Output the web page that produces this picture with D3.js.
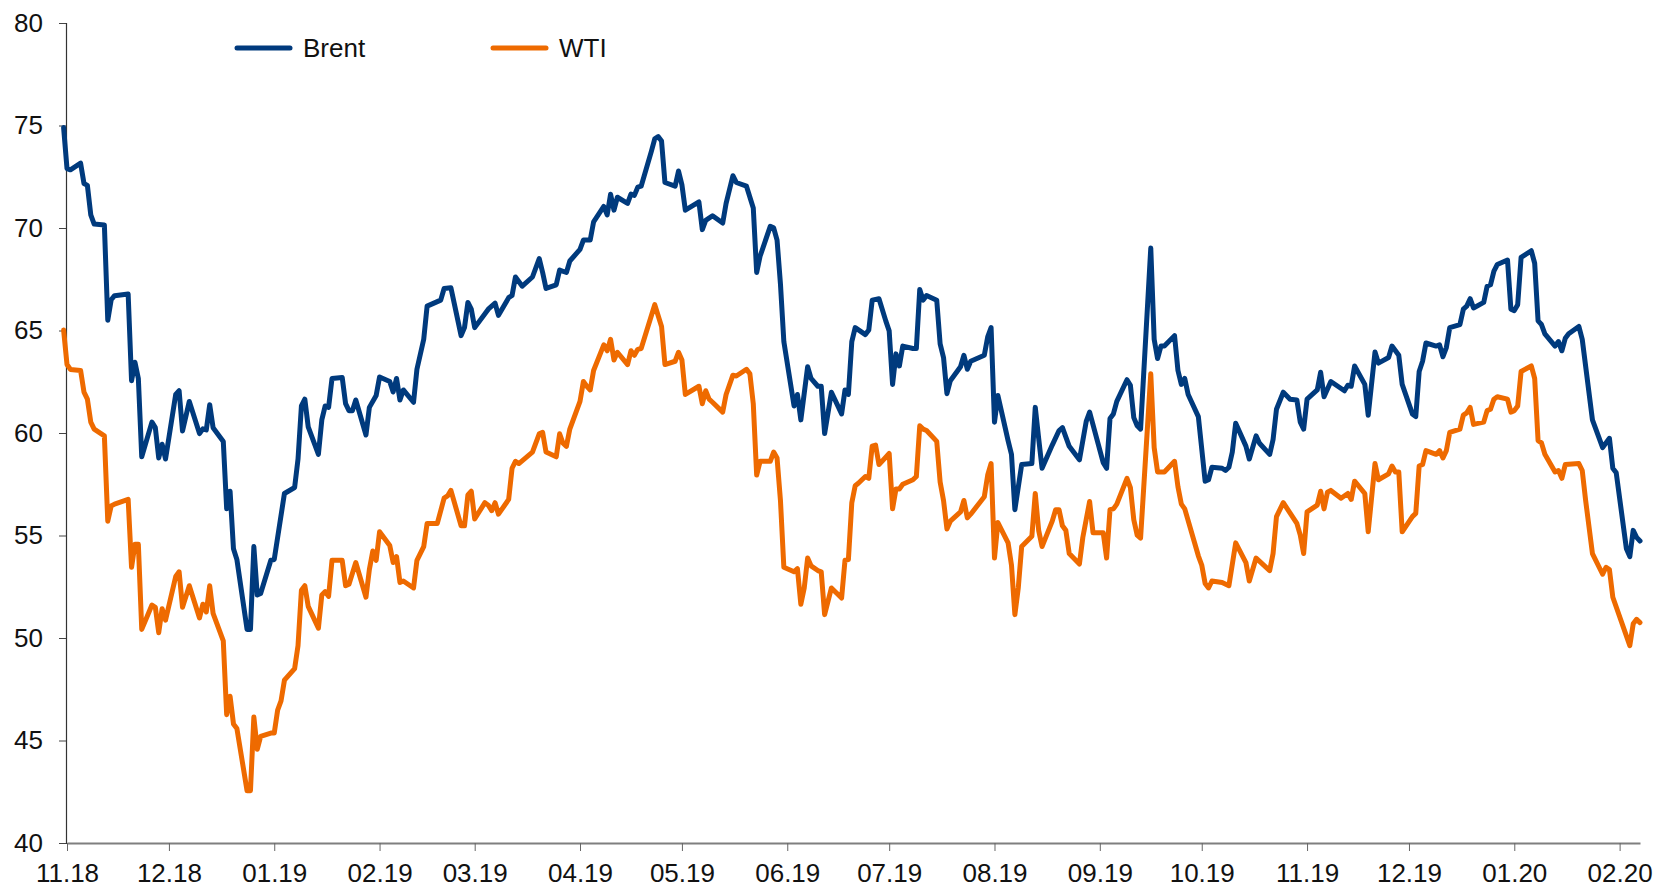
<!DOCTYPE html>
<html>
<head>
<meta charset="utf-8">
<script src="https://cdn.jsdelivr.net/npm/d3@7"></script>
<style>
  body { margin: 0; background: #fff; }
  svg { display: block; font-family: "Liberation Sans", Arial, sans-serif; }
</style>
</head>
<body>
<div id="chart"></div>
<script>
// Daily closes (USD per barrel)
const brent = [
  ["2018-10-31", 74.9], ["2018-11-01", 72.9], ["2018-11-02", 72.84], ["2018-11-05", 73.16], ["2018-11-06", 72.17],
  ["2018-11-07", 72.08], ["2018-11-08", 70.64], ["2018-11-09", 70.19], ["2018-11-12", 70.15], ["2018-11-13", 65.5],
  ["2018-11-14", 66.5], ["2018-11-15", 66.7], ["2018-11-19", 66.78], ["2018-11-20", 62.55], ["2018-11-21", 63.45],
  ["2018-11-22", 62.66], ["2018-11-23", 58.84], ["2018-11-26", 60.53], ["2018-11-27", 60.26], ["2018-11-28", 58.78],
  ["2018-11-29", 59.45], ["2018-11-30", 58.73], ["2018-12-03", 61.88], ["2018-12-04", 62.06], ["2018-12-05", 60.1],
  ["2018-12-07", 61.54], ["2018-12-10", 59.97], ["2018-12-11", 60.2], ["2018-12-12", 60.15], ["2018-12-13", 61.38],
  ["2018-12-14", 60.26], ["2018-12-17", 59.59], ["2018-12-18", 56.3], ["2018-12-19", 57.16], ["2018-12-20", 54.35],
  ["2018-12-21", 53.83], ["2018-12-24", 50.42], ["2018-12-25", 50.42], ["2018-12-26", 54.46], ["2018-12-27", 52.1],
  ["2018-12-28", 52.17], ["2018-12-31", 53.79], ["2019-01-01", 53.83], ["2019-01-04", 57.05], ["2019-01-07", 57.34],
  ["2019-01-08", 58.73], ["2019-01-09", 61.32], ["2019-01-10", 61.65], ["2019-01-11", 60.3], ["2019-01-14", 58.96],
  ["2019-01-15", 60.64], ["2019-01-16", 61.32], ["2019-01-17", 61.25], ["2019-01-18", 62.66], ["2019-01-21", 62.71],
  ["2019-01-22", 61.43], ["2019-01-23", 61.09], ["2019-01-24", 61.09], ["2019-01-25", 61.61], ["2019-01-28", 59.9],
  ["2019-01-29", 61.25], ["2019-01-31", 61.83], ["2019-02-01", 62.73], ["2019-02-04", 62.51], ["2019-02-05", 62.0],
  ["2019-02-06", 62.66], ["2019-02-07", 61.61], ["2019-02-08", 62.1], ["2019-02-11", 61.5], ["2019-02-12", 63.11],
  ["2019-02-14", 64.57], ["2019-02-15", 66.19], ["2019-02-19", 66.48], ["2019-02-20", 67.05], ["2019-02-22", 67.09],
  ["2019-02-25", 64.75], ["2019-02-26", 65.14], ["2019-02-27", 66.37], ["2019-02-28", 66.04], ["2019-03-01", 65.14],
  ["2019-03-05", 66.04], ["2019-03-07", 66.33], ["2019-03-08", 65.74], ["2019-03-11", 66.6], ["2019-03-12", 66.71],
  ["2019-03-13", 67.61], ["2019-03-15", 67.16], ["2019-03-18", 67.61], ["2019-03-20", 68.51], ["2019-03-21", 67.83],
  ["2019-03-22", 67.05], ["2019-03-25", 67.23], ["2019-03-26", 67.95], ["2019-03-28", 67.83], ["2019-03-29", 68.39],
  ["2019-04-01", 68.96], ["2019-04-02", 69.41], ["2019-04-04", 69.41], ["2019-04-05", 70.3], ["2019-04-08", 71.05],
  ["2019-04-09", 70.64], ["2019-04-10", 71.65], ["2019-04-11", 70.87], ["2019-04-12", 71.5], ["2019-04-15", 71.2],
  ["2019-04-16", 71.65], ["2019-04-17", 71.59], ["2019-04-18", 71.99], ["2019-04-19", 72.04], ["2019-04-22", 73.74],
  ["2019-04-23", 74.35], ["2019-04-24", 74.46], ["2019-04-25", 74.24], ["2019-04-26", 72.22], ["2019-04-29", 72.04],
  ["2019-04-30", 72.78], ["2019-05-01", 72.1], ["2019-05-02", 70.87], ["2019-05-06", 71.27], ["2019-05-07", 69.92],
  ["2019-05-08", 70.37], ["2019-05-10", 70.6], ["2019-05-13", 70.24], ["2019-05-14", 71.2], ["2019-05-16", 72.55],
  ["2019-05-17", 72.22], ["2019-05-20", 72.04], ["2019-05-22", 70.98], ["2019-05-23", 67.83], ["2019-05-24", 68.62],
  ["2019-05-27", 70.08], ["2019-05-28", 70.01], ["2019-05-29", 69.41], ["2019-05-30", 67.27], ["2019-05-31", 64.46],
  ["2019-06-03", 61.32], ["2019-06-04", 61.88], ["2019-06-05", 60.64], ["2019-06-07", 63.23], ["2019-06-08", 62.66],
  ["2019-06-10", 62.28], ["2019-06-11", 62.28], ["2019-06-12", 59.97], ["2019-06-14", 61.99], ["2019-06-17", 60.93],
  ["2019-06-18", 62.1], ["2019-06-19", 61.88], ["2019-06-20", 64.46], ["2019-06-21", 65.14], ["2019-06-24", 64.8],
  ["2019-06-25", 65.02], ["2019-06-26", 66.48], ["2019-06-28", 66.55], ["2019-06-30", 65.47], ["2019-07-01", 64.98],
  ["2019-07-02", 62.37], ["2019-07-03", 63.86], ["2019-07-04", 63.27], ["2019-07-05", 64.24], ["2019-07-08", 64.12],
  ["2019-07-09", 64.12], ["2019-07-10", 67.0], ["2019-07-11", 66.48], ["2019-07-12", 66.71], ["2019-07-15", 66.48],
  ["2019-07-16", 64.35], ["2019-07-17", 63.68], ["2019-07-18", 61.92], ["2019-07-19", 62.55], ["2019-07-22", 63.23],
  ["2019-07-23", 63.79], ["2019-07-24", 63.11], ["2019-07-25", 63.5], ["2019-07-29", 63.79], ["2019-07-30", 64.69],
  ["2019-07-31", 65.14], ["2019-08-01", 60.53], ["2019-08-02", 61.83], ["2019-08-05", 59.63], ["2019-08-06", 58.96],
  ["2019-08-07", 56.26], ["2019-08-09", 58.46], ["2019-08-12", 58.51], ["2019-08-13", 61.25], ["2019-08-14", 59.74],
  ["2019-08-15", 58.28], ["2019-08-18", 59.41], ["2019-08-20", 60.12], ["2019-08-21", 60.26], ["2019-08-23", 59.35],
  ["2019-08-26", 58.69], ["2019-08-28", 60.57], ["2019-08-29", 61.02], ["2019-09-02", 58.55], ["2019-09-03", 58.28],
  ["2019-09-04", 60.71], ["2019-09-05", 60.93], ["2019-09-06", 61.54], ["2019-09-09", 62.6], ["2019-09-10", 62.33],
  ["2019-09-11", 60.75], ["2019-09-12", 60.35], ["2019-09-13", 60.19], ["2019-09-16", 69.02], ["2019-09-17", 64.57],
  ["2019-09-18", 63.63], ["2019-09-19", 64.24], ["2019-09-20", 64.24], ["2019-09-23", 64.75], ["2019-09-24", 63.05],
  ["2019-09-25", 62.37], ["2019-09-26", 62.66], ["2019-09-27", 61.88], ["2019-09-30", 60.8], ["2019-10-02", 57.65],
  ["2019-10-03", 57.72], ["2019-10-04", 58.33], ["2019-10-07", 58.28], ["2019-10-08", 58.17], ["2019-10-09", 58.33],
  ["2019-10-10", 59.07], ["2019-10-11", 60.48], ["2019-10-14", 59.36], ["2019-10-15", 58.73], ["2019-10-17", 59.86],
  ["2019-10-18", 59.5], ["2019-10-21", 58.96], ["2019-10-22", 59.68], ["2019-10-23", 61.16], ["2019-10-25", 61.99],
  ["2019-10-27", 61.65], ["2019-10-29", 61.61], ["2019-10-30", 60.53], ["2019-10-31", 60.19], ["2019-11-01", 61.65],
  ["2019-11-04", 62.1], ["2019-11-05", 62.96], ["2019-11-06", 61.77], ["2019-11-08", 62.51], ["2019-11-12", 62.06],
  ["2019-11-13", 62.33], ["2019-11-14", 62.28], ["2019-11-15", 63.27], ["2019-11-18", 62.37], ["2019-11-19", 60.87],
  ["2019-11-21", 63.95], ["2019-11-22", 63.41], ["2019-11-25", 63.68], ["2019-11-26", 64.24], ["2019-11-28", 63.79],
  ["2019-11-29", 62.37], ["2019-12-02", 60.93], ["2019-12-03", 60.8], ["2019-12-04", 63.0], ["2019-12-05", 63.5],
  ["2019-12-06", 64.39], ["2019-12-09", 64.24], ["2019-12-10", 64.3], ["2019-12-11", 63.72], ["2019-12-12", 64.17],
  ["2019-12-13", 65.14], ["2019-12-16", 65.29], ["2019-12-17", 66.04], ["2019-12-18", 66.19], ["2019-12-19", 66.55],
  ["2019-12-20", 66.1], ["2019-12-23", 66.37], ["2019-12-24", 67.16], ["2019-12-25", 67.23], ["2019-12-26", 67.9],
  ["2019-12-27", 68.22], ["2019-12-30", 68.44], ["2019-12-31", 66.04], ["2020-01-01", 65.97], ["2020-01-02", 66.26],
  ["2020-01-03", 68.57], ["2020-01-06", 68.89], ["2020-01-07", 68.28], ["2020-01-08", 65.47], ["2020-01-09", 65.29],
  ["2020-01-10", 64.84], ["2020-01-13", 64.24], ["2020-01-14", 64.46], ["2020-01-15", 64.01], ["2020-01-16", 64.62],
  ["2020-01-17", 64.84], ["2020-01-20", 65.2], ["2020-01-21", 64.57], ["2020-01-24", 60.64], ["2020-01-27", 59.29],
  ["2020-01-29", 59.74], ["2020-01-30", 58.28], ["2020-01-31", 58.06], ["2020-02-03", 54.35], ["2020-02-04", 53.97],
  ["2020-02-05", 55.25], ["2020-02-06", 54.91], ["2020-02-07", 54.73]
];

const wti = [
  ["2018-10-31", 65.02], ["2018-11-01", 63.34], ["2018-11-02", 63.1], ["2018-11-05", 63.05], ["2018-11-06", 61.99],
  ["2018-11-07", 61.65], ["2018-11-08", 60.53], ["2018-11-09", 60.19], ["2018-11-12", 59.86], ["2018-11-13", 55.7],
  ["2018-11-14", 56.44], ["2018-11-15", 56.53], ["2018-11-19", 56.76], ["2018-11-20", 53.45], ["2018-11-21", 54.57],
  ["2018-11-22", 54.57], ["2018-11-23", 50.42], ["2018-11-26", 51.61], ["2018-11-27", 51.5], ["2018-11-28", 50.26],
  ["2018-11-29", 51.43], ["2018-11-30", 50.87], ["2018-12-03", 53.0], ["2018-12-04", 53.23], ["2018-12-05", 51.5],
  ["2018-12-07", 52.55], ["2018-12-10", 50.98], ["2018-12-11", 51.65], ["2018-12-12", 51.27], ["2018-12-13", 52.55],
  ["2018-12-14", 51.2], ["2018-12-17", 49.86], ["2018-12-18", 46.26], ["2018-12-19", 47.16], ["2018-12-20", 45.81],
  ["2018-12-21", 45.59], ["2018-12-24", 42.55], ["2018-12-25", 42.55], ["2018-12-26", 46.15], ["2018-12-27", 44.57],
  ["2018-12-28", 45.2], ["2018-12-31", 45.36], ["2019-01-01", 45.36], ["2019-01-02", 46.48], ["2019-01-03", 46.93],
  ["2019-01-04", 47.94], ["2019-01-07", 48.51], ["2019-01-08", 49.63], ["2019-01-09", 52.33], ["2019-01-10", 52.55],
  ["2019-01-11", 51.54], ["2019-01-14", 50.48], ["2019-01-15", 52.1], ["2019-01-16", 52.26], ["2019-01-17", 52.03],
  ["2019-01-18", 53.79], ["2019-01-21", 53.79], ["2019-01-22", 52.55], ["2019-01-23", 52.62], ["2019-01-25", 53.68],
  ["2019-01-28", 51.99], ["2019-01-29", 53.34], ["2019-01-30", 54.24], ["2019-01-31", 53.79], ["2019-02-01", 55.18],
  ["2019-02-04", 54.51], ["2019-02-05", 53.68], ["2019-02-06", 53.97], ["2019-02-07", 52.71], ["2019-02-08", 52.78],
  ["2019-02-11", 52.44], ["2019-02-12", 53.79], ["2019-02-14", 54.46], ["2019-02-15", 55.59], ["2019-02-18", 55.59],
  ["2019-02-20", 56.82], ["2019-02-21", 56.93], ["2019-02-22", 57.2], ["2019-02-25", 55.47], ["2019-02-26", 55.47],
  ["2019-02-27", 56.98], ["2019-02-28", 57.16], ["2019-03-01", 55.81], ["2019-03-04", 56.6], ["2019-03-05", 56.48],
  ["2019-03-06", 56.21], ["2019-03-07", 56.6], ["2019-03-08", 56.04], ["2019-03-11", 56.76], ["2019-03-12", 58.28],
  ["2019-03-13", 58.62], ["2019-03-14", 58.51], ["2019-03-18", 59.07], ["2019-03-20", 59.96], ["2019-03-21", 60.03],
  ["2019-03-22", 59.07], ["2019-03-25", 58.84], ["2019-03-26", 59.96], ["2019-03-27", 59.5], ["2019-03-28", 59.35],
  ["2019-03-29", 60.19], ["2019-04-01", 61.54], ["2019-04-02", 62.51], ["2019-04-03", 62.28], ["2019-04-04", 62.1],
  ["2019-04-05", 63.05], ["2019-04-08", 64.3], ["2019-04-09", 64.01], ["2019-04-10", 64.57], ["2019-04-11", 63.56],
  ["2019-04-12", 63.94], ["2019-04-15", 63.34], ["2019-04-16", 64.01], ["2019-04-17", 63.79], ["2019-04-18", 64.08],
  ["2019-04-19", 64.12], ["2019-04-23", 66.26], ["2019-04-25", 65.2], ["2019-04-26", 63.34], ["2019-04-29", 63.5],
  ["2019-04-30", 63.94], ["2019-05-01", 63.56], ["2019-05-02", 61.88], ["2019-05-06", 62.28], ["2019-05-07", 61.43],
  ["2019-05-08", 62.06], ["2019-05-09", 61.65], ["2019-05-10", 61.5], ["2019-05-13", 61.02], ["2019-05-14", 61.88],
  ["2019-05-16", 62.82], ["2019-05-17", 62.78], ["2019-05-20", 63.11], ["2019-05-21", 62.89], ["2019-05-22", 61.43],
  ["2019-05-23", 57.95], ["2019-05-24", 58.62], ["2019-05-27", 58.62], ["2019-05-28", 59.07], ["2019-05-29", 58.78],
  ["2019-05-30", 56.71], ["2019-05-31", 53.45], ["2019-06-03", 53.23], ["2019-06-04", 53.38], ["2019-06-05", 51.65],
  ["2019-06-06", 52.44], ["2019-06-07", 53.9], ["2019-06-08", 53.52], ["2019-06-10", 53.29], ["2019-06-11", 53.23],
  ["2019-06-12", 51.14], ["2019-06-14", 52.44], ["2019-06-17", 51.95], ["2019-06-18", 53.79], ["2019-06-19", 53.83],
  ["2019-06-20", 56.6], ["2019-06-21", 57.43], ["2019-06-22", 57.56], ["2019-06-24", 57.88], ["2019-06-25", 57.79],
  ["2019-06-26", 59.36], ["2019-06-27", 59.41], ["2019-06-28", 58.46], ["2019-07-01", 59.0], ["2019-07-02", 56.3],
  ["2019-07-03", 57.27], ["2019-07-04", 57.27], ["2019-07-05", 57.5], ["2019-07-08", 57.72], ["2019-07-09", 57.88],
  ["2019-07-10", 60.35], ["2019-07-11", 60.19], ["2019-07-12", 60.12], ["2019-07-15", 59.59], ["2019-07-16", 57.61],
  ["2019-07-17", 56.71], ["2019-07-18", 55.32], ["2019-07-19", 55.7], ["2019-07-22", 56.15], ["2019-07-23", 56.71],
  ["2019-07-24", 55.86], ["2019-07-25", 56.04], ["2019-07-29", 56.89], ["2019-07-30", 57.95], ["2019-07-31", 58.51],
  ["2019-08-01", 53.9], ["2019-08-02", 55.63], ["2019-08-05", 54.64], ["2019-08-06", 53.56], ["2019-08-07", 51.14],
  ["2019-08-08", 52.44], ["2019-08-09", 54.46], ["2019-08-12", 54.96], ["2019-08-13", 57.05], ["2019-08-14", 55.25],
  ["2019-08-15", 54.46], ["2019-08-18", 55.7], ["2019-08-19", 56.26], ["2019-08-20", 56.26], ["2019-08-21", 55.47],
  ["2019-08-22", 55.25], ["2019-08-23", 54.12], ["2019-08-26", 53.61], ["2019-08-27", 54.91], ["2019-08-29", 56.66],
  ["2019-08-30", 55.14], ["2019-09-02", 55.14], ["2019-09-03", 53.9], ["2019-09-04", 56.26], ["2019-09-05", 56.3],
  ["2019-09-06", 56.53], ["2019-09-09", 57.79], ["2019-09-10", 57.34], ["2019-09-11", 55.77], ["2019-09-12", 55.02],
  ["2019-09-13", 54.87], ["2019-09-16", 62.89], ["2019-09-17", 59.29], ["2019-09-18", 58.1], ["2019-09-20", 58.1],
  ["2019-09-23", 58.62], ["2019-09-24", 57.38], ["2019-09-25", 56.53], ["2019-09-26", 56.3], ["2019-09-30", 54.01],
  ["2019-10-01", 53.56], ["2019-10-02", 52.66], ["2019-10-03", 52.44], ["2019-10-04", 52.78], ["2019-10-07", 52.71],
  ["2019-10-09", 52.55], ["2019-10-11", 54.64], ["2019-10-14", 53.68], ["2019-10-15", 52.78], ["2019-10-17", 53.9],
  ["2019-10-21", 53.29], ["2019-10-22", 54.12], ["2019-10-23", 55.92], ["2019-10-24", 56.26], ["2019-10-25", 56.6],
  ["2019-10-29", 55.59], ["2019-10-30", 55.02], ["2019-10-31", 54.12], ["2019-11-01", 56.15], ["2019-11-04", 56.48],
  ["2019-11-05", 57.16], ["2019-11-06", 56.3], ["2019-11-07", 57.11], ["2019-11-08", 57.2], ["2019-11-11", 56.82],
  ["2019-11-13", 57.05], ["2019-11-14", 56.76], ["2019-11-15", 57.65], ["2019-11-18", 57.05], ["2019-11-19", 55.18],
  ["2019-11-21", 58.51], ["2019-11-22", 57.72], ["2019-11-25", 58.01], ["2019-11-26", 58.39], ["2019-11-27", 58.1],
  ["2019-11-28", 58.1], ["2019-11-29", 55.18], ["2019-12-02", 55.92], ["2019-12-03", 56.08], ["2019-12-04", 58.39],
  ["2019-12-05", 58.46], ["2019-12-06", 59.14], ["2019-12-09", 58.96], ["2019-12-10", 59.14], ["2019-12-11", 58.78],
  ["2019-12-12", 59.14], ["2019-12-13", 60.03], ["2019-12-16", 60.19], ["2019-12-17", 60.87], ["2019-12-18", 60.98],
  ["2019-12-19", 61.25], ["2019-12-20", 60.42], ["2019-12-23", 60.53], ["2019-12-24", 61.09], ["2019-12-25", 61.16],
  ["2019-12-26", 61.65], ["2019-12-27", 61.77], ["2019-12-30", 61.65], ["2019-12-31", 61.02], ["2020-01-01", 61.09],
  ["2020-01-02", 61.32], ["2020-01-03", 63.0], ["2020-01-06", 63.27], ["2020-01-07", 62.66], ["2020-01-08", 59.63],
  ["2020-01-09", 59.52], ["2020-01-10", 58.96], ["2020-01-13", 58.1], ["2020-01-14", 58.17], ["2020-01-15", 57.79],
  ["2020-01-16", 58.46], ["2020-01-20", 58.51], ["2020-01-21", 58.17], ["2020-01-22", 56.71], ["2020-01-24", 54.12],
  ["2020-01-27", 53.11], ["2020-01-28", 53.45], ["2020-01-29", 53.34], ["2020-01-30", 51.99], ["2020-02-04", 49.63],
  ["2020-02-05", 50.69], ["2020-02-06", 50.91], ["2020-02-07", 50.75]
];

const seriesNames = ["Brent", "WTI"];
const seriesColors = ["#003a7d", "#ee6a00"];
const yTicks = [40, 45, 50, 55, 60, 65, 70, 75, 80];
const xStart = "2018-11-01";
const xEnd = "2020-02-07";

const width = 1659, height = 887;
const parse = d3.timeParse("%Y-%m-%d");

const svg = d3.select("#chart")
    .append("svg")
    .attr("width", width)
    .attr("height", height);

const x = d3.scaleTime()
    .domain([parse(xStart), parse(xEnd)])
    .range([67, 1640]);

const y = d3.scaleLinear()
    .domain([40, 80])
    .range([843, 23]);

// y axis
const yAxis = svg.append("g")
    .attr("transform", "translate(66,0)")
    .call(d3.axisLeft(y).tickValues(yTicks).tickSize(7).tickPadding(16));
yAxis.select(".domain").attr("stroke", "#333").attr("stroke-width", 1.2);
yAxis.selectAll(".tick line").attr("stroke", "#444");
yAxis.selectAll(".tick text")
    .attr("fill", "#111")
    .style("font-size", "26px")
    .style("font-family", "Liberation Sans, Arial, sans-serif");

// x axis
const xAxis = svg.append("g")
    .attr("transform", "translate(0,843)")
    .call(d3.axisBottom(x)
        .ticks(d3.timeMonth.every(1))
        .tickFormat(d3.timeFormat("%m.%y"))
        .tickSize(8)
        .tickSizeOuter(0)
        .tickPadding(13));
xAxis.select(".domain").attr("stroke", "#7f7f7f").attr("stroke-width", 2);
xAxis.selectAll(".tick line").attr("stroke", "#666");
xAxis.selectAll(".tick text")
    .attr("fill", "#111")
    .style("font-size", "26px")
    .style("font-family", "Liberation Sans, Arial, sans-serif");

// lines
const line = d3.line()
    .x(d => x(parse(d[0])))
    .y(d => y(d[1]));

const allSeries = [brent, wti];

svg.selectAll(".series")
    .data(allSeries)
    .join("path")
    .attr("class", "series")
    .attr("d", line)
    .attr("fill", "none")
    .attr("stroke", (d, i) => seriesColors[i])
    .attr("stroke-width", 5)
    .attr("stroke-linejoin", "round")
    .attr("stroke-linecap", "round");

// legend
const legendX = [237, 493];
const legend = svg.selectAll(".legend")
    .data(seriesNames)
    .join("g")
    .attr("class", "legend")
    .attr("transform", (d, i) => `translate(${legendX[i]},48)`);

legend.append("line")
    .attr("x1", 0)
    .attr("x2", 53)
    .attr("stroke", (d, i) => seriesColors[i])
    .attr("stroke-width", 5)
    .attr("stroke-linecap", "round");

legend.append("text")
    .attr("x", 66)
    .attr("dy", "0.35em")
    .attr("fill", "#111")
    .style("font-size", "26px")
    .text(d => d);
</script>
</body>
</html>
